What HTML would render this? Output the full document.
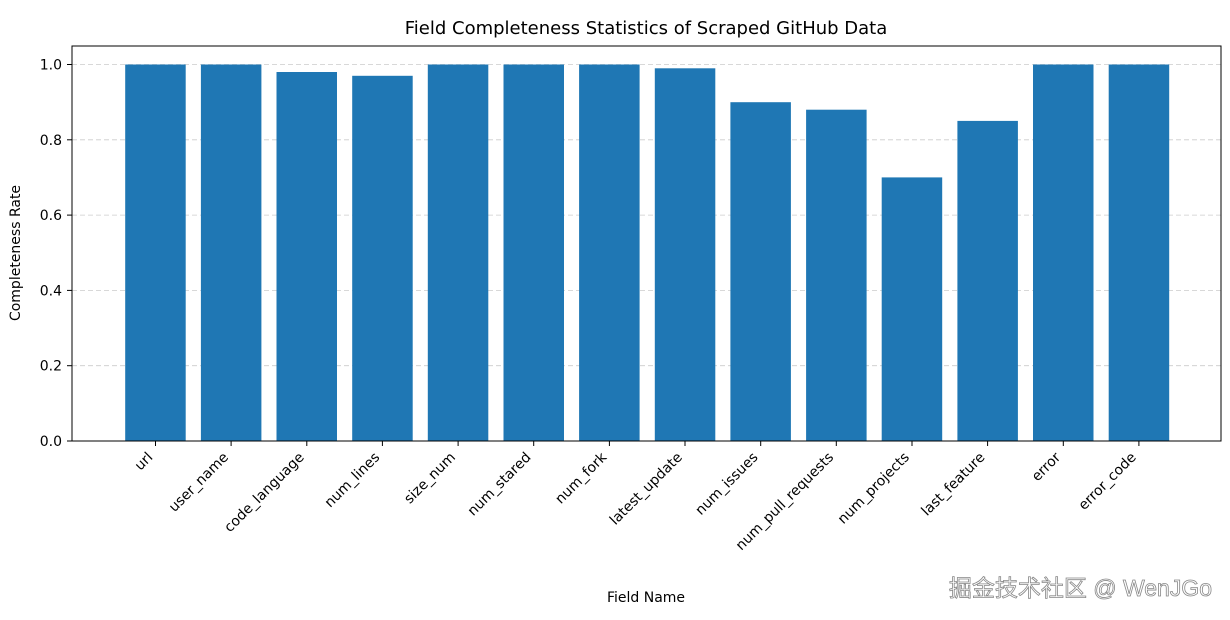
<!DOCTYPE html>
<html><head><meta charset="utf-8"><style>
html,body{margin:0;padding:0;background:#fff;}
svg{display:block;font-family:"DejaVu Sans","Liberation Sans",sans-serif;}
</style></head><body>
<svg width="1230" height="620" viewBox="0 0 1230 620" xmlns="http://www.w3.org/2000/svg">
<rect width="1230" height="620" fill="#fff"/>
<text x="646" y="34" font-size="18" text-anchor="middle" fill="#000">Field Completeness Statistics of Scraped GitHub Data</text>
<g stroke="#ccc" stroke-dasharray="5,3" stroke-width="0.8">
<line x1="72" x2="1221" y1="365.7" y2="365.7"/>
<line x1="72" x2="1221" y1="290.4" y2="290.4"/>
<line x1="72" x2="1221" y1="215.1" y2="215.1"/>
<line x1="72" x2="1221" y1="139.8" y2="139.8"/>
<line x1="72" x2="1221" y1="64.5" y2="64.5"/>
</g>
<g fill="#1f77b4">
<rect x="125.2" y="64.5" width="60.5" height="376.5"/>
<rect x="200.9" y="64.5" width="60.5" height="376.5"/>
<rect x="276.5" y="72.0" width="60.5" height="369.0"/>
<rect x="352.2" y="75.8" width="60.5" height="365.2"/>
<rect x="427.8" y="64.5" width="60.5" height="376.5"/>
<rect x="503.5" y="64.5" width="60.5" height="376.5"/>
<rect x="579.1" y="64.5" width="60.5" height="376.5"/>
<rect x="654.8" y="68.3" width="60.5" height="372.7"/>
<rect x="730.4" y="102.2" width="60.5" height="338.8"/>
<rect x="806.1" y="109.7" width="60.5" height="331.3"/>
<rect x="881.7" y="177.4" width="60.5" height="263.6"/>
<rect x="957.4" y="120.9" width="60.5" height="320.1"/>
<rect x="1033.0" y="64.5" width="60.5" height="376.5"/>
<rect x="1108.7" y="64.5" width="60.5" height="376.5"/>
</g>
<rect x="72" y="46" width="1149" height="395" fill="none" stroke="#000" stroke-width="1"/>
<g stroke="#000" stroke-width="1">
<line x1="67" x2="72" y1="441" y2="441"/><line x1="67" x2="72" y1="365.7" y2="365.7"/><line x1="67" x2="72" y1="290.4" y2="290.4"/><line x1="67" x2="72" y1="215.1" y2="215.1"/><line x1="67" x2="72" y1="139.8" y2="139.8"/><line x1="67" x2="72" y1="64.5" y2="64.5"/>
</g>
<g font-size="14" text-anchor="end" fill="#000">
<text x="62" y="446">0.0</text><text x="62" y="370.7">0.2</text><text x="62" y="295.4">0.4</text><text x="62" y="220.1">0.6</text><text x="62" y="144.8">0.8</text><text x="62" y="69.5">1.0</text>
</g>
<text transform="translate(20,253) rotate(-90)" font-size="14" text-anchor="middle">Completeness Rate</text>
<text x="646" y="602" font-size="14" text-anchor="middle">Field Name</text>
<g font-size="14" text-anchor="end" fill="#000">
<text transform="translate(153.5,458) rotate(-45)">url</text>
<text transform="translate(229.1,458) rotate(-45)">user_name</text>
<text transform="translate(304.8,458) rotate(-45)">code_language</text>
<text transform="translate(380.4,458) rotate(-45)">num_lines</text>
<text transform="translate(456.1,458) rotate(-45)">size_num</text>
<text transform="translate(531.7,458) rotate(-45)">num_stared</text>
<text transform="translate(607.4,458) rotate(-45)">num_fork</text>
<text transform="translate(683.0,458) rotate(-45)">latest_update</text>
<text transform="translate(758.7,458) rotate(-45)">num_issues</text>
<text transform="translate(834.3,458) rotate(-45)">num_pull_requests</text>
<text transform="translate(910.0,458) rotate(-45)">num_projects</text>
<text transform="translate(985.6,458) rotate(-45)">last_feature</text>
<text transform="translate(1061.3,458) rotate(-45)">error</text>
<text transform="translate(1136.9,458) rotate(-45)">error_code</text>
</g>
<g stroke="#000"><line x1="155.5" x2="155.5" y1="441" y2="446"/><line x1="231.1" x2="231.1" y1="441" y2="446"/><line x1="306.8" x2="306.8" y1="441" y2="446"/><line x1="382.4" x2="382.4" y1="441" y2="446"/><line x1="458.1" x2="458.1" y1="441" y2="446"/><line x1="533.7" x2="533.7" y1="441" y2="446"/><line x1="609.4" x2="609.4" y1="441" y2="446"/><line x1="685" x2="685" y1="441" y2="446"/><line x1="760.7" x2="760.7" y1="441" y2="446"/><line x1="836.3" x2="836.3" y1="441" y2="446"/><line x1="912" x2="912" y1="441" y2="446"/><line x1="987.6" x2="987.6" y1="441" y2="446"/><line x1="1063.3" x2="1063.3" y1="441" y2="446"/><line x1="1138.9" x2="1138.9" y1="441" y2="446"/></g>
<text x="1212" y="596" font-size="23" text-anchor="end" fill="#fff" stroke="#888" stroke-width="0.8" style="font-family:'Liberation Sans','Noto Sans CJK SC',sans-serif">掘金技术社区 @ WenJGo</text>
</svg>
</body></html>
